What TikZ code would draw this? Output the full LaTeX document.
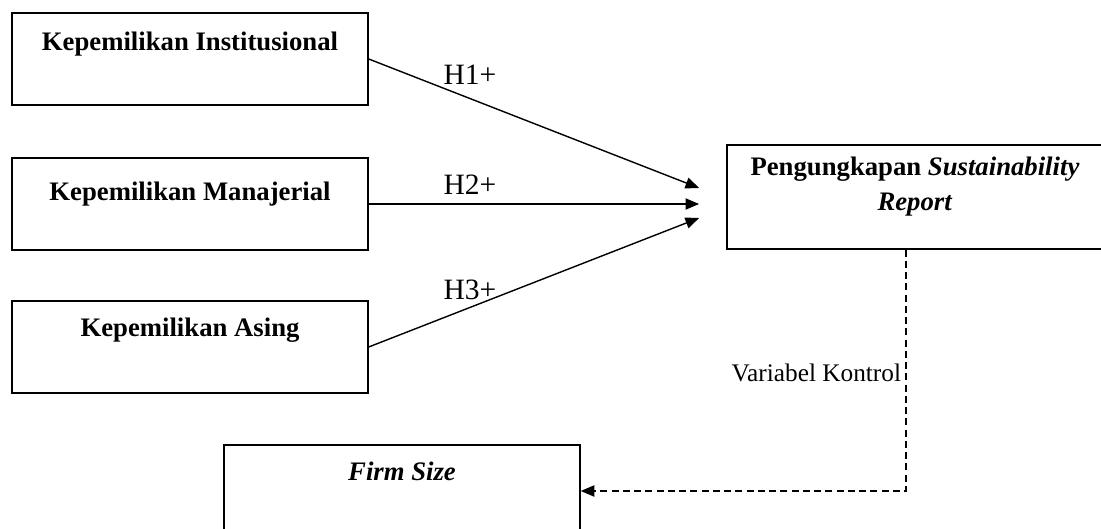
\documentclass[tikz,border=0pt]{standalone}
\usepackage{fontspec}
\setmainfont{Liberation Serif}
\usetikzlibrary{arrows.meta,calc}

\begin{document}
\begin{tikzpicture}[x=1cm, y=1cm,
    varbox/.style={draw, line width=1pt, minimum width=8.9cm, minimum height=2.3cm, inner sep=0pt},
    boxtext/.style={font=\fontsize{19}{25}\selectfont\bfseries, anchor=north, align=center},
    hyp/.style={line width=1pt, -{Triangle[length=0.34cm, width=0.28cm]}},
    control/.style={hyp, dash pattern=on 5pt off 3pt},
    hlabel/.style={font=\fontsize{21}{25}\selectfont},
    klabel/.style={font=\fontsize{18}{21}\selectfont, inner sep=3pt}]
  \clip (0,0) rectangle (27.525,13.225);
  % independent variables: ownership structure
  \node[varbox, label={[boxtext, yshift=-0.36cm]north:Kepemilikan Institusional}] (inst) at (4.75,11.75) {};
  \node[varbox, label={[boxtext, yshift=-0.5cm]north:Kepemilikan Manajerial}] (mgr) at (4.75,8.125) {};
  \node[varbox, label={[boxtext, yshift=-0.32cm]north:Kepemilikan Asing}] (asing) at (4.75,4.55) {};

  % dependent variable and control variable
  \node[varbox, minimum width=9.4cm, minimum height=2.6cm,
    label={[boxtext, yshift=-0.2cm]north:{Pengungkapan \textit{Sustainability}\\\textit{Report}}}] (report) at (22.875,8.3) {};
  \node[varbox, label={[boxtext, yshift=-0.33cm]north:\textit{Firm Size}}] (firm) at (10.05,0.95) {};

  % hypotheses H1--H3 end just before the report box
  \coordinate (tip1) at ($(report.west)+(-0.68,0.225)$);
  \coordinate (tip2) at (mgr.east -| tip1);
  \coordinate (tip3) at ($(report.west)+(-0.68,-0.525)$);
  \draw[hyp] (inst.east) -- (tip1);
  \draw[hyp] (mgr.east) -- (tip2);
  \draw[hyp] (asing.east) -- (tip3);
  \node[hlabel] (h1) at (11.75,11.35) {H1+};
  \node[hlabel] (h2) at (11.75,8.6) {H2+};
  \node[hlabel] (h3) at (11.75,5.975) {H3+};

  % control variable link
  \coordinate (ctl) at ($(report.south)+(-0.225,0)$);
  \draw[control] (ctl) |- node[klabel, pos=0.255, left] (kontrol) {Variabel Kontrol} (firm.east);
\end{tikzpicture}
\end{document}
